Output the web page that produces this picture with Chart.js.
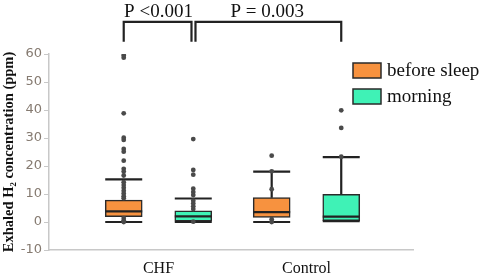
<!DOCTYPE html>
<html>
<head>
<meta charset="utf-8">
<script src="https://cdn.jsdelivr.net/npm/chart.js@4"></script>
<style>
  html, body { margin: 0; padding: 0; background: #fff; }
  #wrap { width: 483px; height: 276px; }
</style>
</head>
<body>
<div id="wrap"><canvas id="myChart"></canvas></div>
<script>
const groups = ["CHF", "Control"];
const seriesNames = ["before sleep", "morning"];
// box stats per group: [min, q1, median, q3, max]
const beforeSleep = [[0, 1.9, 3.8, 7.8, 15.2], [0, 1.6, 3.5, 8.7, 18.0]];
const morning = [[0, 0.3, 2.0, 4.0, 8.4], [0.3, 0.5, 1.9, 9.9, 23.2]];
// single points shown as dots
const beforeSleepDots = [
    [59.5, 58.7, 38.8, 30.1, 29.3, 26.1, 25.1, 21.9, 19, 18, 16.6, 14.2, 13.2, 12.2, 11.2, 10.2, 9.2, 8.5, 1.4, 0.6, 0],
    [23.7, 18.1, 11.7, 1, 0],
];
const morningDots = [
    [29.6, 18.6, 16.9, 11.9, 10.7, 9.6, 7.6, 6.6, 5.6, 4.6, 0.1],
    [39.9, 33.6, 23.3],
];
const yTicks = [-10, 0, 10, 20, 30, 40, 50, 60];
// comparisons: [group, series] -> [group, series]
const comparisons = [[[0, 0], [0, 1]], [[0, 1], [1, 1]]];
const pLabels = ["P <0.001", "P = 0.003"];

const colors = ["#f7923f", "#3ff2b6"];
const offset = 0.235;   // box shift from group centre (x units)
const halfBox = 0.125;  // half box width (x units)
const allStats = [beforeSleep, morning];
const allDots = [beforeSleepDots, morningDots];

function xOf(g, s) {
    return g + 1 + (s === 0 ? -offset : offset);
}

// whiskers, caps and medians as one gapped line
let whiskerPts = [];
allStats.forEach((stats, s) => {
    stats.forEach((st, g) => {
        let x = xOf(g, s);
        whiskerPts.push(
            { x: x - halfBox, y: st[4] }, { x: x + halfBox, y: st[4] }, { x: x, y: null },
            { x: x, y: st[4] }, { x: x, y: st[3] }, { x: x, y: null },
            { x: x, y: st[1] }, { x: x, y: st[0] }, { x: x, y: null },
            { x: x - halfBox, y: st[0] }, { x: x + halfBox, y: st[0] }, { x: x, y: null },
            { x: x - halfBox, y: st[2] }, { x: x + halfBox, y: st[2] }, { x: x, y: null }
        );
    });
});

let dotPts = [];
allDots.forEach((dots, s) => {
    dots.forEach((list, g) => {
        list.forEach((v) => dotPts.push({ x: xOf(g, s), y: v }));
    });
});

// significance brackets (drawn above the plot, clip off)
const bracketTop = 71.5;
const bracketFoot = 64.4;
let bracketSets = comparisons.map((c, i) => {
    let x1 = xOf(c[0][0], c[0][1]) + (i === 1 ? 0.015 : 0);
    let x2 = xOf(c[1][0], c[1][1]) - (i === 0 ? 0.012 : 0);
    return {
        type: "line",
        data: [{ x: x1, y: bracketFoot }, { x: x1, y: bracketTop }, { x: x2, y: bracketTop }, { x: x2, y: bracketFoot }],
        borderColor: "#222",
        borderWidth: 2.2,
        pointRadius: 0,
        clip: false,
        order: 0,
    };
});

const boxSets = allStats.map((stats, s) => ({
    type: "bar",
    label: seriesNames[s],
    data: stats.map((st, g) => ({ x: xOf(g, s), y: [st[1], st[3]] })),
    backgroundColor: colors[s],
    borderColor: "#2a2a2a",
    borderWidth: 1.5,
    borderSkipped: false,
    barThickness: 37,
    grouped: false,
    order: 3,
}));

const overlay = {
    id: "overlay",
    afterDraw(chart) {
        const c = chart.ctx;
        const xs = chart.scales.x;
        c.save();
        c.fillStyle = "#111";
        c.font = "19px 'Liberation Serif', 'Times New Roman', serif";
        c.textAlign = "center";
        c.textBaseline = "middle";
        comparisons.forEach((cmp, i) => {
            let a = xs.getPixelForValue(xOf(cmp[0][0], cmp[0][1]));
            let b = xs.getPixelForValue(xOf(cmp[1][0], cmp[1][1]));
            c.fillText(pLabels[i], (a + b) / 2, 12);
        });
        // legend
        c.textAlign = "left";
        seriesNames.forEach((name, i) => {
            let y = 63 + i * 26;
            c.fillStyle = colors[i];
            c.fillRect(353, y, 28, 15);
            c.strokeStyle = "#2a2a2a";
            c.lineWidth = 1.5;
            c.strokeRect(353, y, 28, 15);
            c.fillStyle = "#111";
            c.fillText(name, 387, y + 8);
        });
        c.restore();
    },
};

let ctx = document.getElementById("myChart").getContext("2d");
let myChart = new Chart(ctx, {
    data: {
        datasets: [
            ...boxSets,
            {
                type: "line",
                data: whiskerPts,
                borderColor: "#222",
                borderWidth: 2.2,
                pointRadius: 0,
                spanGaps: false,
                order: 2,
            },
            {
                type: "scatter",
                data: dotPts,
                pointRadius: 2.4,
                pointBackgroundColor: "#4a4a4a",
                pointBorderWidth: 0,
                order: 1,
            },
            ...bracketSets,
        ],
    },
    options: {
        responsive: true,
        maintainAspectRatio: false,
        animation: false,
        layout: { padding: { top: 54, right: 70, bottom: 0, left: 0 } },
        plugins: { legend: { display: false }, tooltip: { enabled: false } },
        scales: {
            x: {
                type: "linear",
                min: 0.26,
                max: 2.72,
                offset: false,
                grid: { display: false },
                border: { display: true, color: "#c8c8c8", width: 1.5 },
                afterBuildTicks: (s) => { s.ticks = groups.map((g, i) => ({ value: i + 1 })); },
                afterFit: (s) => { s.height = 26; },
                ticks: {
                    padding: 1,
                    color: "#111",
                    font: { family: "'Liberation Serif', serif", size: 16 },
                    callback: (v) => groups[v - 1],
                },
            },
            y: {
                min: -10,
                max: 60,
                afterBuildTicks: (s) => { s.ticks = yTicks.map((v) => ({ value: v })); },
                afterFit: (s) => { s.width = 49; },
                grid: { display: true, drawOnChartArea: false, tickLength: 5, color: "#c8c8c8" },
                border: { display: true, color: "#c8c8c8", width: 1.5 },
                ticks: {
                    padding: 2,
                    color: "#857a70",
                    font: { family: "'DejaVu Sans', sans-serif", size: 13 },
                },
                title: {
                    display: true,
                    text: "Exhaled H\u2082 concentration (ppm)",
                    color: "#111",
                    padding: { top: 1, bottom: 0 },
                    font: { family: "'Liberation Serif', serif", size: 14.5, weight: "bold" },
                },
            },
        },
    },
    plugins: [overlay],
});
</script>
</body>
</html>
